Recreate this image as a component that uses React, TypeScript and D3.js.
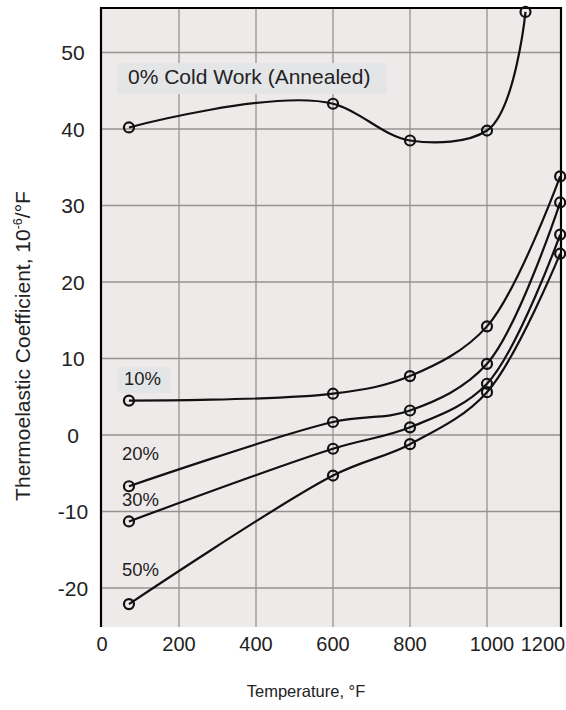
import React from "react";
import * as d3 from "d3";

const series0 = { label: "0% Cold Work (Annealed)", x: [70, 600, 800, 1000, 1100], y: [40.2, 43.3, 38.5, 39.8, 55.3] };
const series10 = { label: "10%", x: [70, 600, 800, 1000, 1190], y: [4.5, 5.4, 7.7, 14.2, 33.8] };
const series20 = { label: "20%", x: [70, 600, 800, 1000, 1190], y: [-6.7, 1.7, 3.2, 9.3, 30.4] };
const series30 = { label: "30%", x: [70, 600, 800, 1000, 1190], y: [-11.3, -1.8, 1.0, 6.7, 26.2] };
const series50 = { label: "50%", x: [70, 600, 800, 1000, 1190], y: [-22.1, -5.3, -1.2, 5.6, 23.7] };
const allSeries = [series0, series10, series20, series30, series50];

const xTicks = [0, 200, 400, 600, 800, 1000, 1200];
const yTicks = [-20, -10, 0, 10, 20, 30, 40, 50];
const xTitle = "Temperature, °F";
const yTitleMain = "Thermoelastic Coefficient, 10";
const yTitleSup = "-6";
const yTitleEnd = "/°F";

export default function App() {
  const W = 566, H = 710;
  const left = 101, right = 561, top = 8, bottom = 627;
  const x = d3.scaleLinear().domain([0, 1200]).range([102, 564]);
  const y = d3.scaleLinear().domain([-20, 50]).range([588, 52.5]);
  const mkLine = (curve: any) =>
    d3
      .line<[number, number]>()
      .x((d) => x(d[0]))
      .y((d) => y(d[1]))
      .curve(curve);
  const lineTop = mkLine(d3.curveCatmullRom.alpha(0.85));
  const lineLow = mkLine(d3.curveCatmullRom.alpha(0.5));
  const font = "Liberation Sans, Arial, sans-serif";
  const xLabelDx: Record<number, number> = { 1000: 5, 1200: -21 };

  // label placements (layout)
  const labelPos = [
    { x: 128, y: 84, size: 21, box: [117, 63, 270, 31] },
    { x: 124, y: 385, size: 18.5, box: [118, 367, 52, 26] },
    { x: 122, y: 460, size: 18.5, box: null },
    { x: 122, y: 506, size: 18.5, box: null },
    { x: 122, y: 576, size: 18.5, box: null },
  ];

  return (
    <svg width={W} height={H} style={{ position: "absolute", left: 0, top: 0, background: "#fff" }} fontFamily={font}>
      <rect x={0} y={0} width={W} height={H} fill="#ffffff" />
      <rect x={left} y={top} width={right - left} height={bottom - top} fill="#eeeaea" />
      {/* grid */}
      {xTicks.filter((t) => t > 0 && t < 1200).map((t) => (
        <line key={"gx" + t} x1={x(t)} x2={x(t)} y1={top} y2={bottom} stroke="#959292" strokeWidth={1.3} />
      ))}
      {yTicks.map((t) => (
        <line key={"gy" + t} x1={left} x2={right} y1={y(t)} y2={y(t)} stroke="#959292" strokeWidth={1.3} />
      ))}
      {/* label boxes */}
      {labelPos.map((p, i) =>
        p.box ? <rect key={"b" + i} x={p.box[0]} y={p.box[1]} width={p.box[2]} height={p.box[3]} fill="#e4e5e7" /> : null
      )}
      {/* frame */}
      <line x1={left} x2={left} y1={top - 1} y2={bottom} stroke="#000" strokeWidth={2.2} />
      <line x1={right} x2={right} y1={top - 1} y2={bottom} stroke="#000" strokeWidth={2.2} />
      <line x1={left} x2={right} y1={top} y2={top} stroke="#000" strokeWidth={2} />
      {/* curves */}
      {allSeries.map((s, i) => {
        const pts = s.x.map((v, j) => [v, s.y[j]] as [number, number]);
        const ln = i === 0 ? lineTop : lineLow;
        return (
          <g key={"s" + i}>
            <path d={ln(pts) || ""} fill="none" stroke="#111" strokeWidth={2.2} />
            {pts.map((p, j) => (
              <circle key={j} cx={x(p[0])} cy={y(p[1])} r={5} fill="none" stroke="#111" strokeWidth={2.2} />
            ))}
          </g>
        );
      })}
      {/* series labels */}
      {allSeries.map((s, i) => (
        <text key={"l" + i} x={labelPos[i].x} y={labelPos[i].y} fontSize={labelPos[i].size} fill="#222">
          {s.label}
        </text>
      ))}
      {/* y tick labels */}
      {yTicks.map((t) => (
        <text key={"yt" + t} x={73} y={y(t) + 7.5} fontSize={21} textAnchor="middle" fill="#222">
          {t}
        </text>
      ))}
      {/* x tick labels */}
      {xTicks.map((t) => (
        <text key={"xt" + t} x={x(t) + (xLabelDx[t] || 0)} y={651} fontSize={20} textAnchor="middle" fill="#222">
          {t}
        </text>
      ))}
      <text x={306} y={697} fontSize={16.5} textAnchor="middle" fill="#222">
        {xTitle}
      </text>
      <text transform="translate(30,346) rotate(-90)" fontSize={21} textAnchor="middle" fill="#222">
        {yTitleMain}
        <tspan fontSize={12.5} dy={-8}>{yTitleSup}</tspan>
        <tspan dy={8}>{yTitleEnd}</tspan>
      </text>
    </svg>
  );
}
